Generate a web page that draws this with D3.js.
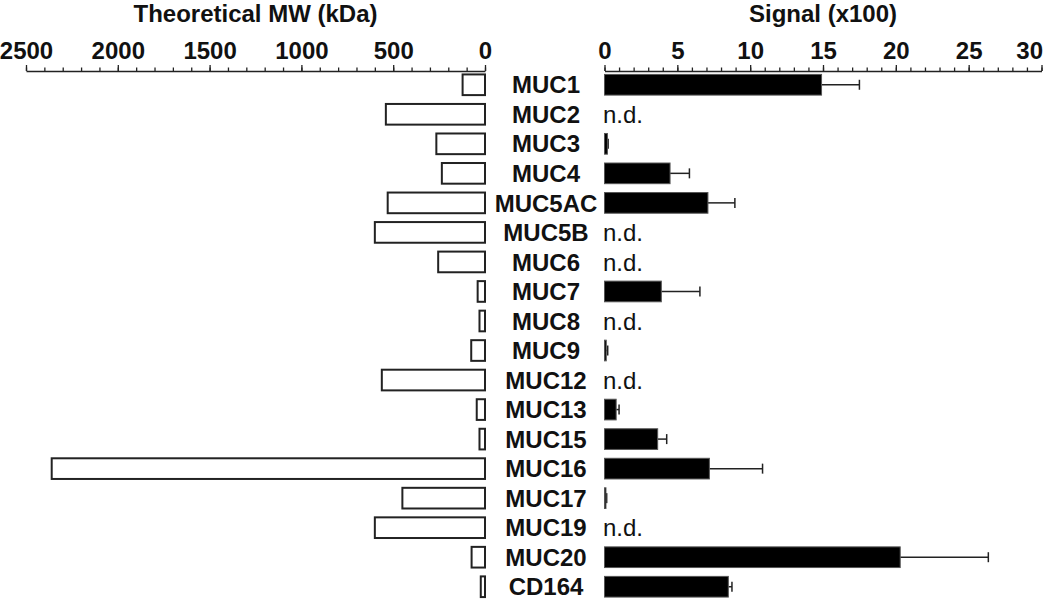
<!DOCTYPE html>
<html>
<head>
<meta charset="utf-8">
<script src="https://cdn.jsdelivr.net/npm/d3@7"></script>
<style>
  body { margin: 0; background: #fff; }
  text { font-family: "Liberation Sans", Arial, sans-serif; fill: #111; }
</style>
</head>
<body>
<script>
// mucin names, top to bottom
var genes = ["MUC1", "MUC2", "MUC3", "MUC4", "MUC5AC", "MUC5B", "MUC6", "MUC7", "MUC8",
             "MUC9", "MUC12", "MUC13", "MUC15", "MUC16", "MUC17", "MUC19", "MUC20", "CD164"];
// theoretical molecular weight, kDa
var mw = [122, 540, 265, 235, 530, 600, 255, 40, 30, 75, 562, 45, 30, 2360, 450, 600, 73, 23];
// signal (x100); null = n.d.
var signal = [14.9, null, 0.2, 4.5, 7.1, null, null, 3.9, null, 0.12, null, 0.8, 3.65, 7.2, 0.1, null, 20.3, 8.5];
var signalErr = [2.6, null, 0.05, 1.33, 1.85, null, null, 2.65, null, 0.1, null, 0.2, 0.62, 3.65, 0.05, null, 6.05, 0.25];

var mwTicks = [0, 500, 1000, 1500, 2000, 2500];
var sigTicks = [0, 5, 10, 15, 20, 25, 30];

var width = 1050, height = 601;
var axisY = 71;

var svg = d3.select("body").append("svg")
    .attr("width", width)
    .attr("height", height);

var xL = d3.scaleLinear().domain([0, 2500]).range([485, 26]);
var xR = d3.scaleLinear().domain([0, 30]).range([604.5, 1041.5]);
var y = d3.scaleBand().domain(genes).range([70, 601.5])
    .paddingInner(0.3).paddingOuter(0.15);

// ---- left axis (MW) ----
svg.append("g")
    .attr("transform", "translate(0," + axisY + ")")
    .call(d3.axisTop(xL).tickValues(d3.range(0, 2501, 100)).tickSize(3.5).tickFormat(""))
    .call(function (g) { g.select(".domain").remove(); });

svg.append("g")
    .attr("class", "axL")
    .attr("transform", "translate(0," + axisY + ")")
    .call(d3.axisTop(xL).tickValues(mwTicks).tickFormat(d3.format("d"))
        .tickSize(6).tickSizeOuter(0).tickPadding(6));

// ---- right axis (signal) ----
svg.append("g")
    .attr("transform", "translate(0," + axisY + ")")
    .call(d3.axisTop(xR).tickValues(d3.range(0, 31, 1)).tickSize(3.5).tickFormat(""))
    .call(function (g) { g.select(".domain").remove(); });

svg.append("g")
    .attr("class", "axR")
    .attr("transform", "translate(0," + axisY + ")")
    .call(d3.axisTop(xR).tickValues(sigTicks).tickFormat(d3.format("d"))
        .tickSize(6).tickSizeOuter(0).tickPadding(6));

svg.selectAll(".tick line, .domain").attr("stroke", "#222").attr("stroke-width", 1.3);
svg.selectAll(".axL text, .axR text")
    .attr("font-size", 24)
    .attr("font-weight", "bold")
    .attr("font-family", "'Liberation Sans', Arial, sans-serif")
    .attr("fill", "#111");

// last label hugs the right edge
svg.selectAll(".axR .tick text")
    .filter(function (d) { return d === 30; })
    .attr("text-anchor", "end")
    .attr("x", 1);

// axis titles
svg.append("text")
    .attr("x", (xL(0) + xL(2500)) / 2)
    .attr("y", 22)
    .attr("text-anchor", "middle")
    .attr("font-size", 24)
    .attr("font-weight", "bold")
    .text("Theoretical MW (kDa)");

svg.append("text")
    .attr("x", (xR(0) + xR(30)) / 2)
    .attr("y", 22)
    .attr("text-anchor", "middle")
    .attr("font-size", 24)
    .attr("font-weight", "bold")
    .text("Signal (x100)");

// ---- left bars ----
svg.selectAll("rect.mw")
    .data(genes)
    .enter().append("rect")
    .attr("class", "mw")
    .attr("x", function (d, i) { return xL(mw[i]); })
    .attr("y", function (d) { return y(d); })
    .attr("width", function (d, i) { return xL(0) - xL(mw[i]); })
    .attr("height", y.bandwidth())
    .attr("fill", "#fff")
    .attr("stroke", "#222")
    .attr("stroke-width", 2);

// ---- gene labels ----
svg.selectAll("text.gene")
    .data(genes)
    .enter().append("text")
    .attr("class", "gene")
    .attr("x", 546)
    .attr("y", function (d) { return y(d) + y.bandwidth() / 2; })
    .attr("dy", "0.36em")
    .attr("text-anchor", "middle")
    .attr("font-size", 24)
    .attr("font-weight", "bold")
    .text(function (d) { return d; });

// ---- right bars ----
var rows = genes.map(function (g, i) {
    return { gene: g, v: signal[i], e: signalErr[i] };
});
var hasSig = rows.filter(function (r) { return r.v !== null; });
var noSig = rows.filter(function (r) { return r.v === null; });

svg.selectAll("line.err")
    .data(hasSig)
    .enter().append("line")
    .attr("class", "err")
    .attr("x1", function (r) { return xR(r.v); })
    .attr("x2", function (r) { return xR(r.v + r.e); })
    .attr("y1", function (r) { return y(r.gene) + y.bandwidth() / 2; })
    .attr("y2", function (r) { return y(r.gene) + y.bandwidth() / 2; })
    .attr("stroke", "#222")
    .attr("stroke-width", 1.5);

svg.selectAll("line.cap")
    .data(hasSig)
    .enter().append("line")
    .attr("class", "cap")
    .attr("x1", function (r) { return xR(r.v + r.e); })
    .attr("x2", function (r) { return xR(r.v + r.e); })
    .attr("y1", function (r) { return y(r.gene) + y.bandwidth() / 2 - 5; })
    .attr("y2", function (r) { return y(r.gene) + y.bandwidth() / 2 + 5; })
    .attr("stroke", "#222")
    .attr("stroke-width", 1.5);

svg.selectAll("rect.sig")
    .data(hasSig)
    .enter().append("rect")
    .attr("class", "sig")
    .attr("x", xR(0))
    .attr("y", function (r) { return y(r.gene); })
    .attr("width", function (r) { return xR(r.v) - xR(0); })
    .attr("height", y.bandwidth())
    .attr("fill", "#000")
    .attr("stroke", "#555")
    .attr("stroke-width", 1);

svg.selectAll("text.nd")
    .data(noSig)
    .enter().append("text")
    .attr("class", "nd")
    .attr("x", 603)
    .attr("y", function (r) { return y(r.gene) + y.bandwidth() / 2; })
    .attr("dy", "0.36em")
    .attr("font-size", 24)
    .text("n.d.");
</script>
</body>
</html>
